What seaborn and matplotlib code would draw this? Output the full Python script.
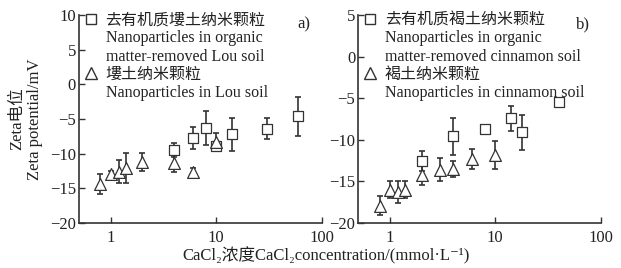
import numpy as np
import pandas as pd
import matplotlib
matplotlib.use("Agg")
import matplotlib.pyplot as plt
from matplotlib.lines import Line2D
import seaborn as sns

# panel a: Lou soil
a_sq_x = [4, 6, 8, 10, 14, 30, 60]
a_sq_y = [-9.5, -7.7, -6.3, -8.9, -7.2, -6.4, -4.6]
a_sq_e = [1.0, 1.6, 2.4, 0.3, 2.4, 1.5, 2.8]
a_tr_x = [0.8, 1.0, 1.2, 1.4, 2, 4, 6, 10]
a_tr_y = [-14.4, -13.0, -12.6, -12.1, -11.2, -11.3, -12.7, -8.3]
a_tr_e = [1.4, 0.5, 1.7, 2.2, 1.3, 1.3, 0.7, 1.3]

# panel b: cinnamon soil
b_sq_x = [2, 4, 8, 14, 18, 40]
b_sq_y = [-12.5, -9.6, -8.7, -7.4, -9.1, -5.5]
b_sq_e = [1.2, 2.2, 0.3, 1.5, 2.1, 0.0]
b_tr_x = [0.8, 1.0, 1.2, 1.4, 2, 3, 4, 6, 10]
b_tr_y = [-17.9, -16.0, -16.3, -16.0, -14.2, -13.6, -13.5, -12.3, -11.8]
b_tr_e = [1.2, 1.0, 1.3, 1.0, 1.2, 1.4, 1.0, 1.2, 1.7]

labels_a = ["去有机质塿土纳米颗粒", "Nanoparticles in organic\nmatter-removed Lou soil",
            "塿土纳米颗粒", "Nanoparticles in Lou soil"]
labels_b = ["去有机质褐土纳米颗粒", "Nanoparticles in organic\nmatter-removed cinnamon soil",
            "褐土纳米颗粒", "Nanoparticles in cinnamon soil"]

sns.set_style("ticks")
plt.rcParams["font.family"] = ["Liberation Serif", "Noto Sans CJK SC", "DejaVu Serif"]
plt.rcParams["xtick.direction"] = "in"
plt.rcParams["ytick.direction"] = "in"

ink = "#333333"
txt = "#222222"
fig = plt.figure(figsize=(6.21, 2.68), dpi=100)
ax_a = fig.add_axes([0.127, 0.168, 0.391, 0.776])
ax_b = fig.add_axes([0.5765, 0.168, 0.391, 0.776])


def draw(ax, sq, tr, labels, ylim, yticks, tag):
    for (x, y, e), m, ms in ((sq, "s", 6.5), (tr, "^", 8.5)):
        df = pd.DataFrame({"x": x, "y": y, "e": e})
        ax.errorbar(df["x"], df["y"], yerr=df["e"], fmt="none", ecolor=ink,
                    elinewidth=1.2, capsize=2.5, capthick=1.2, zorder=2)
        sns.scatterplot(data=df, x="x", y="y", ax=ax, marker=m, s=ms ** 2,
                        facecolor="white", edgecolor=ink, linewidth=0.9, zorder=3)
    ax.set_xscale("log")
    ax.set_xlim(0.5, 100)
    ax.set_ylim(*ylim)
    ax.set_yticks(yticks)
    ax.set_xticks([1, 10, 100])
    ax.set_xticklabels(["1", "10", "100"])
    ax.minorticks_off()
    ax.tick_params(axis="both", labelsize=12, colors=ink, length=4, width=1.0,
                   labelcolor=txt)
    ax.tick_params(axis="x", pad=5)
    ax.tick_params(axis="y", pad=2)
    for s in ("top", "right"):
        ax.spines[s].set_visible(False)
    for s in ("left", "bottom"):
        ax.spines[s].set_color(ink)
        ax.spines[s].set_linewidth(1.2)
    ax.set_xlabel("")
    ax.set_ylabel("")
    blank = Line2D([], [], linestyle="none", marker="")
    handles = [Line2D([], [], linestyle="none", marker="s", markersize=6.5,
                      markerfacecolor="white", markeredgecolor=ink),
               blank,
               Line2D([], [], linestyle="none", marker="^", markersize=8.5,
                      markerfacecolor="white", markeredgecolor=ink),
               blank]
    leg = ax.legend(handles, labels, loc="upper left", bbox_to_anchor=(-0.015, 1.06),
                    frameon=False, fontsize=11.5, handlelength=0.8, handletextpad=0.5,
                    labelspacing=0.12, borderaxespad=0.2)
    for t in leg.get_texts():
        t.set_color(txt)
        t.set_linespacing(1.25)
    ax.text(0.955, 0.955, tag, transform=ax.transAxes, ha="right", va="center",
            fontsize=12, color=txt)


draw(ax_a, (a_sq_x, a_sq_y, a_sq_e), (a_tr_x, a_tr_y, a_tr_e), labels_a,
     (-20, 10), [-20, -15, -10, -5, 0, 5, 10], "a)")
draw(ax_b, (b_sq_x, b_sq_y, b_sq_e), (b_tr_x, b_tr_y, b_tr_e), labels_b,
     (-20, 5), [-20, -15, -10, -5, 0, 5], "b)")

ax_a.set_ylabel("Zeta电位\nZeta potential/mV", fontsize=12, color=txt,
                linespacing=1.15)
ax_a.yaxis.set_label_coords(-0.148, 0.5)
fig.text(0.525, 0.045, "CaCl₂浓度CaCl₂concentration/(mmol·L⁻¹)", ha="center",
         va="center", fontsize=12, color=txt)

fig.savefig("out.png", dpi=100, facecolor="white")
plt.close(fig)
